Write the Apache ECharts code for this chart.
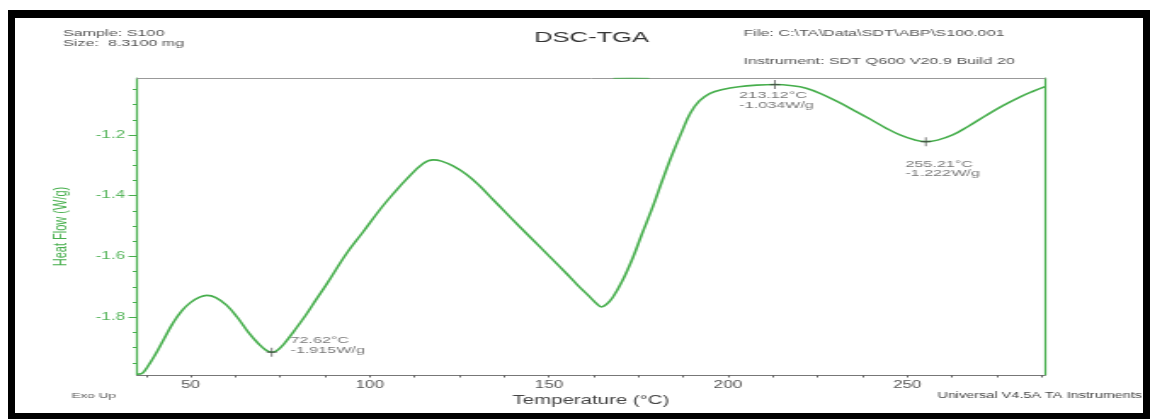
<!DOCTYPE html>
<html>
<head>
<meta charset="utf-8">
<script src="https://cdn.jsdelivr.net/npm/echarts@6/dist/echarts.min.js"></script>
<style>
html, body { margin: 0; padding: 0; width: 1150px; height: 419px; overflow: hidden; background: #fff; }
#frame { position: absolute; left: 8px; top: 10px; width: 1142px; height: 409px; box-sizing: border-box;
  border-left: 7px solid #000; border-top: 8px solid #000; border-right: 7px solid #000; border-bottom: 6px solid #000; }
/* the instrument printout is stretched wide, so the chart is drawn narrow and scaled in x */
#main { position: absolute; left: 0; top: 0; width: 676px; height: 419px; transform: scaleX(1.70118); transform-origin: 0 0; }
</style>
</head>
<body>
<div id="frame"></div>
<div id="main"></div>
<script>
// DSC heat flow curve
var tempC = [35.0, 36.5, 38.0, 40.0, 42.5, 45.0, 47.5, 50.0, 52.5, 54.5, 57.0, 60.0, 63.0, 66.0, 69.0, 71.0, 72.62, 74.0, 76.0, 79.0,
  82.0, 85.0, 88.0, 93.5, 98.0, 102.8, 106.5, 110.2, 114.9, 117.7, 120.0, 123.2, 127.0, 130.7, 134.5, 138.1, 141.5, 145.0, 150.0,
  154.9, 158.0, 161.4, 163.5, 164.6, 166.0, 167.8, 170.5, 173.4, 176.0, 179.0, 181.8, 184.5, 187.3, 189.5, 192.0, 195.0, 198.5,
  203.0, 208.0, 213.12, 218.0, 221.8, 225.7, 231.0, 235.0, 240.0, 244.2, 248.0, 252.0, 255.21, 258.5, 262.7, 267.0, 272.0,
  277.0, 281.3, 285.0, 288.5];
var heatFlow = [-1.987, -1.984, -1.962, -1.925, -1.872, -1.820, -1.779, -1.751, -1.734, -1.728, -1.735, -1.760, -1.800, -1.848,
  -1.888, -1.908, -1.915, -1.910, -1.888, -1.843, -1.795, -1.742, -1.690, -1.590, -1.521, -1.446, -1.394, -1.346, -1.294, -1.282,
  -1.286, -1.302, -1.330, -1.368, -1.414, -1.457, -1.498, -1.539, -1.598, -1.656, -1.694, -1.733, -1.757, -1.766, -1.758, -1.735,
  -1.680, -1.605, -1.525, -1.436, -1.345, -1.262, -1.184, -1.128, -1.088, -1.063, -1.050, -1.041, -1.036, -1.034, -1.038, -1.046,
  -1.063, -1.093, -1.118, -1.150, -1.178, -1.200, -1.216, -1.222, -1.217, -1.200, -1.172, -1.136, -1.102, -1.076, -1.057, -1.041];

// short piece of a second trace that shows at the top edge
var topTraceT = [168, 173, 178];
var topTraceW = [-1.0135, -1.0132, -1.0135];

// marked peaks
var peakT = [72.62, 213.12, 255.21];
var peakW = [-1.915, -1.034, -1.222];
var peakLabelPos = [[14, -12], [-18, 11], [-9, 22]];

// axis ticks
var xLabelVals = [50, 100, 150, 200, 250];
var xTickVals = [37.5, 50, 62.5, 75, 87.5, 100, 112.5, 125, 137.5, 150, 162.5, 175, 187.5, 200, 212.5, 225, 237.5, 250, 262.5, 275, 287.5];
var yLabelVals = [-1.8, -1.6, -1.4, -1.2];
var yMinorVals = [-1.95, -1.9, -1.85, -1.8, -1.75, -1.7, -1.65, -1.6, -1.55, -1.5, -1.45, -1.4, -1.35, -1.3, -1.25, -1.2, -1.15, -1.1, -1.05];

var green = '#46ae4c';
var font = 'Liberation Sans, Arial, sans-serif';
var xMin = 35, xMax = 288.5, yMin = -1.99, yMax = -1.0125;

var myChart = echarts.init(document.getElementById('main'));
var hdr = { fontSize: 9.5, lineHeight: 9.4, color: '#555', fontWeight: 'normal', fontFamily: font };
option = {
    animation: false,
    title: [
        { text: 'DSC-TGA', left: 314, top: 30, padding: 0,
          textStyle: { fontSize: 15, lineHeight: 16, color: '#333', fontWeight: 'normal', fontFamily: font } },
        { text: 'Sample: S100\nSize:  8.3100 mg', left: 37, top: 29, padding: 0, textStyle: hdr },
        { text: 'File: C:\\TA\\Data\\SDT\\ABP\\S100.001', left: 437, top: 29, padding: 0, textStyle: hdr },
        { text: 'Instrument: SDT Q600 V20.9 Build 20', left: 437, top: 57, padding: 0, textStyle: hdr },
        { text: 'Exo Up', left: 42, top: 391.5, padding: 0,
          textStyle: { fontSize: 8, lineHeight: 9, color: '#555', fontWeight: 'normal', fontFamily: font } },
        { text: 'Universal V4.5A TA Instruments', left: 551, top: 391.5, padding: 0,
          textStyle: { fontSize: 8.5, lineHeight: 9, color: '#444', fontWeight: 'normal', fontFamily: font } }
    ],
    grid: { left: 80.5, right: 61.7, top: 78, bottom: 44 },
    xAxis: [
        {
            type: 'value', min: xMin, max: xMax, position: 'bottom',
            name: 'Temperature (°C)', nameLocation: 'middle', nameGap: 18,
            nameTextStyle: { fontSize: 12, color: '#444', fontFamily: font },
            axisLine: { show: true, onZero: false, lineStyle: { color: '#777', width: 1 } },
            axisTick: { show: true, customValues: xTickVals, length: 2.5, lineStyle: { color: '#666' } },
            axisLabel: { customValues: xLabelVals, margin: 5, fontSize: 10, color: '#555', fontFamily: font },
            splitLine: { show: false }
        },
        {
            type: 'value', min: xMin, max: xMax, position: 'top',
            axisLine: { show: true, onZero: false, lineStyle: { color: '#999', width: 1 } },
            axisTick: { show: false }, axisLabel: { show: false }, splitLine: { show: false }
        }
    ],
    yAxis: [
        {
            type: 'value', min: yMin, max: yMax, position: 'left',
            name: 'Heat Flow (W/g)', nameLocation: 'middle', nameGap: 39, nameRotate: 90,
            nameTextStyle: { fontSize: 11, color: green, fontFamily: font },
            axisLine: { show: true, onZero: false, lineStyle: { color: green, width: 1.2 } },
            axisTick: { show: true, customValues: yLabelVals, length: 5, lineStyle: { color: green } },
            axisLabel: { customValues: yLabelVals, formatter: function (v) { return v.toFixed(1); },
                         margin: 7, fontSize: 10, color: '#55b45a', fontFamily: font },
            splitLine: { show: false }
        },
        {
            type: 'value', min: yMin, max: yMax, position: 'left',
            axisLine: { show: false },
            axisTick: { show: true, customValues: yMinorVals, length: 2.5, lineStyle: { color: green } },
            axisLabel: { show: false }, splitLine: { show: false }
        },
        {
            type: 'value', min: yMin, max: yMax, position: 'right',
            axisLine: { show: true, onZero: false, lineStyle: { color: green, width: 1.2 } },
            axisTick: { show: false }, axisLabel: { show: false }, splitLine: { show: false }
        }
    ],
    series: [
        {
            name: 'Heat Flow', type: 'line', showSymbol: false, smooth: 0.4,
            data: tempC.map(function (t, i) { return [t, heatFlow[i]]; }),
            lineStyle: { color: green, width: 1.6 }
        },
        {
            name: 'top trace', type: 'line', showSymbol: false,
            data: topTraceT.map(function (t, i) { return [t, topTraceW[i]]; }),
            lineStyle: { color: green, width: 1.3, opacity: 0.7 }
        },
        {
            name: 'peaks', type: 'scatter', z: 5,
            symbol: 'path://M0,4.3h10v1.4h-10z M4.3,0h1.4v10h-1.4z', symbolSize: [6, 9],
            itemStyle: { color: '#444' },
            label: {
                show: true, align: 'left', verticalAlign: 'top',
                fontSize: 9.5, lineHeight: 9.5, color: '#555', fontFamily: font,
                formatter: function (p) { return p.value[0].toFixed(2) + '°C\n' + p.value[1].toFixed(3) + 'W/g'; }
            },
            data: peakT.map(function (t, i) {
                return { value: [t, peakW[i]], label: { position: peakLabelPos[i] } };
            })
        }
    ]
};
myChart.setOption(option);
</script>
</body>
</html>
